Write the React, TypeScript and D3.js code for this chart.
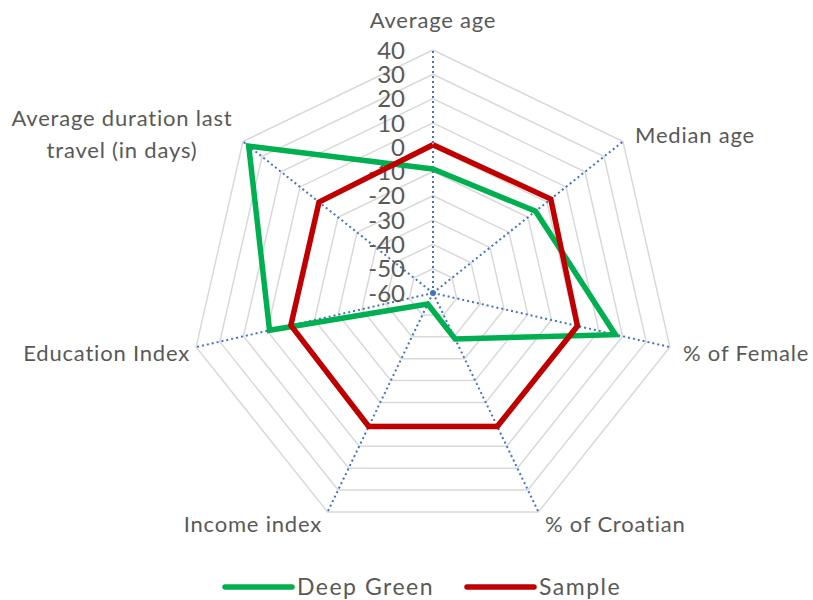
import React, { useEffect, useRef } from "react";
import * as d3 from "d3";

const categories = [
  "Average age",
  "Median age",
  "% of Female",
  "% of Croatian",
  "Income index",
  "Education Index",
  "Average duration last travel (in days)",
];
const deepGreen = [-9, -6, 17, -39, -55, 9, 37];
const sample = [1, 2, 1, 1, 1, 0, 0];
const tickValues = [-60, -50, -40, -30, -20, -10, 0, 10, 20, 30, 40];

const seriesList = [
  { name: "Deep Green", values: deepGreen, color: "#00b050" },
  { name: "Sample", values: sample, color: "#c00000" },
];

function RadarChart() {
  const ref = useRef<SVGSVGElement>(null);

  useEffect(() => {
    const svg = d3.select(ref.current);
    svg.selectAll("*").remove();

    const cx = 433;
    const cy = 293;
    const radius = 243;
    const n = categories.length;
    const textColor = "#595959";
    const font = "Lato, 'Open Sans', sans-serif";

    const r = d3.scaleLinear().domain([-60, 40]).range([0, radius]);
    const angle = d3
      .scaleLinear()
      .domain([0, n])
      .range([0, 2 * Math.PI]);

    const pt = (i: number, v: number): [number, number] => {
      const a = angle(i);
      return [cx + r(v) * Math.sin(a), cy - r(v) * Math.cos(a)];
    };

    const g = svg.append("g");

    // grid rings
    tickValues.slice(1).forEach((t) => {
      const pts = d3.range(n).map((i) => pt(i, t));
      g.append("path")
        .attr("d", d3.line()([...pts, pts[0]]))
        .attr("fill", "none")
        .attr("stroke", "#d9d9d9")
        .attr("stroke-width", 1.5);
    });

    // spokes
    d3.range(n).forEach((i) => {
      const [x, y] = pt(i, 40);
      g.append("line")
        .attr("x1", cx)
        .attr("y1", cy)
        .attr("x2", x)
        .attr("y2", y)
        .attr("stroke", "#4472c4")
        .attr("stroke-width", 2)
        .attr("stroke-dasharray", "2 3");
    });
    g.append("circle")
      .attr("cx", cx)
      .attr("cy", cy)
      .attr("r", 3)
      .attr("fill", "#4472c4");

    // tick labels (stacked tightly, as in the original)
    tickValues.forEach((t) => {
      g.append("text")
        .attr("x", 405)
        .attr("y", cy - r(t))
        .attr("dy", "0.36em")
        .attr("text-anchor", "end")
        .attr("fill", textColor)
        .style("font-family", font)
        .style("font-size", "24px")
        .text(t);
    });

    // series
    seriesList.forEach((s) => {
      const pts = s.values.map((v, i) => pt(i, v));
      g.append("path")
        .attr("d", d3.line()([...pts, pts[0]]))
        .attr("fill", "none")
        .attr("stroke", s.color)
        .attr("stroke-width", 5.5)
        .attr("stroke-linejoin", "miter");
    });

    // category labels
    const labelPos: { x: number; y: number; anchor: string; lines: string[] }[] = [
      { x: 433, y: 20, anchor: "middle", lines: [categories[0]] },
      { x: 635, y: 135, anchor: "start", lines: [categories[1]] },
      { x: 683, y: 353, anchor: "start", lines: [categories[2]] },
      { x: 545, y: 524, anchor: "start", lines: [categories[3]] },
      { x: 322, y: 524, anchor: "end", lines: [categories[4]] },
      { x: 190, y: 353, anchor: "end", lines: [categories[5]] },
      { x: 122, y: 118, anchor: "middle", lines: ["Average duration last", "travel (in days)"] },
    ];
    labelPos.forEach((l) => {
      const t = g
        .append("text")
        .attr("text-anchor", l.anchor)
        .attr("fill", textColor)
        .style("font-family", font)
        .style("font-size", "22px")
        .style("letter-spacing", "0.8px");
      l.lines.forEach((line, k) => {
        t.append("tspan")
          .attr("x", l.x)
          .attr("y", l.y + k * 32)
          .attr("dy", "0.36em")
          .text(line);
      });
    });

    // legend
    const legendX = [225, 467];
    seriesList.forEach((s, i) => {
      g.append("line")
        .attr("x1", legendX[i])
        .attr("x2", legendX[i] + 67)
        .attr("y1", 587)
        .attr("y2", 587)
        .attr("stroke", s.color)
        .attr("stroke-width", 5.5)
        .attr("stroke-linecap", "round");
      g.append("text")
        .attr("x", legendX[i] + 72)
        .attr("y", 587)
        .attr("dy", "0.36em")
        .attr("fill", textColor)
        .style("font-family", font)
        .style("font-size", "23px")
        .style("letter-spacing", "1.5px")
        .text(s.name);
    });
  });

  return <svg ref={ref} width={813} height={600} style={{ display: "block" }} />;
}

export default function App() {
  return (
    <div style={{ position: "absolute", left: 0, top: 0 }}>
      <RadarChart />
    </div>
  );
}
